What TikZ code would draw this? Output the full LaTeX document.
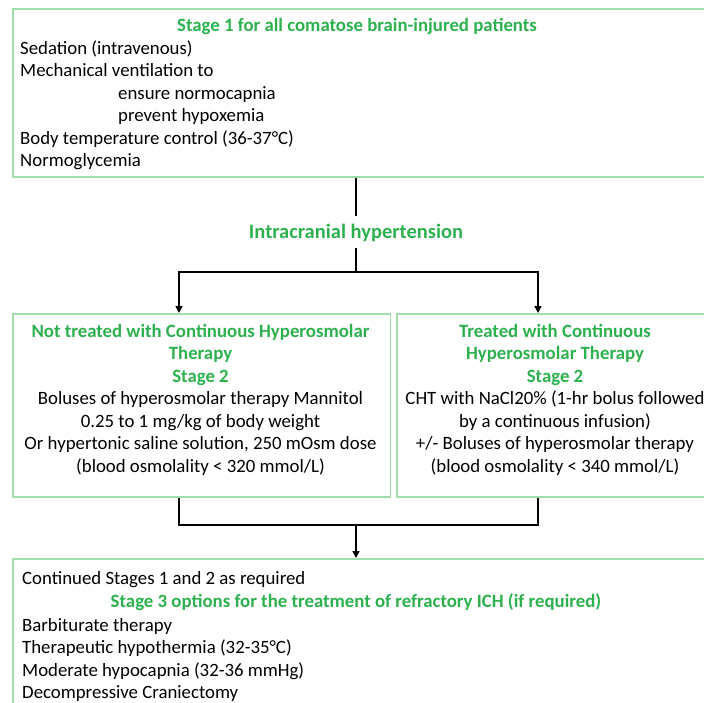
\documentclass[tikz,border=0pt]{standalone}
\usepackage{fontspec}
\setmainfont{Carlito}
\usepackage{tikz}
\usetikzlibrary{arrows.meta, positioning, calc}

\definecolor{stagegreen}{HTML}{2DB14E}
\definecolor{boxgreen}{HTML}{A3DCAC}
\newcommand{\grhead}[1]{\textcolor{stagegreen}{\bfseries #1}}

\begin{document}
\begin{tikzpicture}[
  x=1pt, y=-1pt,
  box/.style={rectangle, draw=boxgreen, line width=1.8pt, anchor=north west, inner sep=0pt},
  txt/.style={font=\fontsize{18.8}{22.5}\selectfont, inner sep=0pt},
  head/.style={txt, font=\fontsize{18.8}{22.5}\selectfont\bfseries, text=stagegreen},
  wire/.style={line width=1.5pt},
  arrow/.style={wire, -{Triangle[length=7pt, width=7pt]}}
]
  \useasboundingbox (0,0) rectangle (704,702);
  \clip (0,0) rectangle (704,702);

  % stage 1
  \node[box, minimum width=700pt, minimum height=168pt] (stage1) at (12,8) {};
  \node[head, anchor=base] (stage1head) at (357,31) {Stage 1 for all comatose brain-injured patients};
  \node[txt, align=left, anchor=north west] (stage1list) at (20,40.5)
    {Sedation (intravenous)\\
     Mechanical ventilation to\\
     \hspace*{98pt}ensure normocapnia\\
     \hspace*{98pt}prevent hypoxemia\\
     Body temperature control (36-37°C)\\
     Normoglycemia};

  \node[head, font=\fontsize{20.5}{24}\selectfont\bfseries, anchor=base] (ich) at (356,238) {Intracranial hypertension};

  % stage 2
  \node[box, minimum width=377.5pt, minimum height=183pt] (nocht) at (12,313) {};
  \node[box, minimum width=320pt, minimum height=183pt] (cht) at (396,313) {};
  \node[txt, align=center] (nochttxt) at (200.5,399.5)
    {\grhead{Not treated with Continuous Hyperosmolar}\\
     \grhead{Therapy}\\
     \grhead{Stage 2}\\
     Boluses of hyperosmolar therapy Mannitol\\
     0.25 to 1 mg/kg of body weight\\
     Or hypertonic saline solution, 250 mOsm dose\\
     (blood osmolality < 320 mmol/L)};
  \node[txt, align=center] (chttxt) at (555,399.5)
    {\grhead{Treated with Continuous}\\
     \grhead{Hyperosmolar Therapy}\\
     \grhead{Stage 2}\\
     CHT with NaCl20\% (1-hr bolus followed\\
     by a continuous infusion)\\
     +/- Boluses of hyperosmolar therapy\\
     (blood osmolality < 340 mmol/L)};

  % stage 3
  \node[box, minimum width=700pt, minimum height=200pt] (stage3) at (12,558) {};
  \node[txt, anchor=base west] (cont) at (22,584) {Continued Stages 1 and 2 as required};
  \node[head, anchor=base] (stage3head) at (356,607) {Stage 3 options for the treatment of refractory ICH (if required)};
  \node[txt, align=left, anchor=north west] (stage3list) at (22,618)
    {Barbiturate therapy\\
     Therapeutic hypothermia (32-35°C)\\
     Moderate hypocapnia (32-36 mmHg)\\
     Decompressive Craniectomy};

  \coordinate (split) at (356,272);
  \coordinate (forkL) at (179,272);
  \coordinate (forkR) at (538,272);
  \coordinate (joinL) at (179,525);
  \coordinate (joinR) at (538,525);
  \coordinate (join) at (356,525);

  \draw[wire] (stage1.south -| split) -- ([yshift=7pt]ich.north -| split);
  \draw[wire] ([yshift=-7pt]ich.south -| split) -- (split);
  \draw[arrow] (split) -- (forkL) -- (forkL |- nocht.north);
  \draw[arrow] (split) -- (forkR) -- (forkR |- cht.north);
  \draw[wire] (joinL |- nocht.south) -- (joinL) -- (joinR) -- (joinR |- cht.south);
  \draw[arrow] (join) -- (join |- stage3.north);
\end{tikzpicture}
\end{document}
